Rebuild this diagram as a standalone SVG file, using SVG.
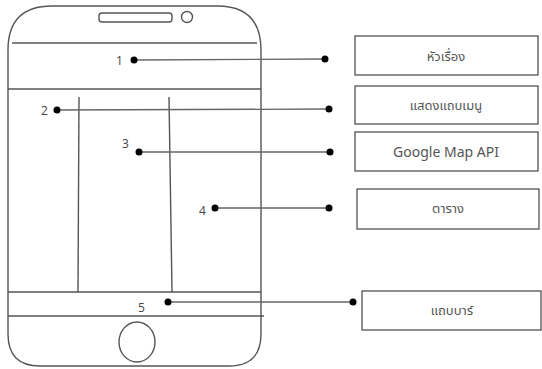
<svg xmlns="http://www.w3.org/2000/svg" width="542" height="369" viewBox="0 0 542 369">
<style>
.ph{fill:none;stroke:#555;stroke-width:1.4}
.ln{fill:none;stroke:#666;stroke-width:1.3}
.dot{fill:#000}
.box{fill:#fff;stroke:#444;stroke-width:1.2}
.num{font-family:"Open Sans","Noto Sans",sans-serif;font-size:12px;fill:#444}
.lbl{font-family:"Noto Sans","Noto Sans Thai","Open Sans",sans-serif;font-size:13px;fill:#555;text-anchor:middle}
.en{font-size:14px}
</style>
<rect width="542" height="369" fill="#fff"/>
<g id="phone">
<path class="ph" d="M8 50 Q8 6 52 6 L217 6 Q261 6 261 50 L261 334 Q261 366 229 366 L40 366 Q8 366 8 334 Z"/>
<rect class="ph" x="99" y="13" width="73" height="9" rx="3"/>
<circle class="ph" cx="187" cy="17" r="5.5"/>
<line class="ph" x1="12" y1="43" x2="257" y2="43"/>
<line class="ph" x1="8" y1="89" x2="261" y2="89"/>
<line class="ph" x1="79" y1="97" x2="78" y2="292"/>
<line class="ph" x1="169" y1="97" x2="172" y2="292"/>
<line class="ph" x1="8" y1="292" x2="261" y2="292"/>
<line class="ph" x1="8" y1="316" x2="264" y2="316"/>
<ellipse class="ph" cx="137" cy="342" rx="18" ry="20"/>
</g>
<g id="connectors">
<line class="ln" x1="134" y1="60" x2="325" y2="59"/>
<line class="ln" x1="57" y1="110" x2="329" y2="109"/>
<line class="ln" x1="139" y1="152" x2="330" y2="152"/>
<line class="ln" x1="215" y1="208" x2="329" y2="208"/>
<line class="ln" x1="168" y1="302" x2="353" y2="302"/>
<circle class="dot" cx="134" cy="60" r="3.5"/>
<circle class="dot" cx="325" cy="59" r="3.5"/>
<circle class="dot" cx="57" cy="110" r="3.5"/>
<circle class="dot" cx="329" cy="109" r="3.5"/>
<circle class="dot" cx="139" cy="152" r="3.5"/>
<circle class="dot" cx="330" cy="152" r="3.5"/>
<circle class="dot" cx="215" cy="208" r="3.5"/>
<circle class="dot" cx="329" cy="208" r="3.5"/>
<circle class="dot" cx="168" cy="302" r="3.5"/>
<circle class="dot" cx="353" cy="302" r="3.5"/>
</g>
<g id="n1"><text class="num" x="116" y="65">1</text><rect class="box" x="355" y="36" width="183" height="39"/><text class="lbl" x="446" y="61">หัวเรื่อง</text></g>
<g id="n2"><text class="num" x="41" y="115">2</text><rect class="box" x="355" y="86" width="183" height="38"/><text class="lbl" x="446" y="110">แสดงแถบเมนู</text></g>
<g id="n3"><text class="num" x="122" y="148">3</text><rect class="box" x="355" y="132" width="183" height="39"/><text class="lbl en" x="446" y="157">Google Map API</text></g>
<g id="n4"><text class="num" x="199" y="215">4</text><rect class="box" x="357" y="189" width="182" height="40"/><text class="lbl" x="448" y="213">ตาราง</text></g>
<g id="n5"><text class="num" x="138" y="312">5</text><rect class="box" x="362" y="291" width="179" height="39"/><text class="lbl" x="452" y="315">แถบบาร์</text></g>
</svg>
